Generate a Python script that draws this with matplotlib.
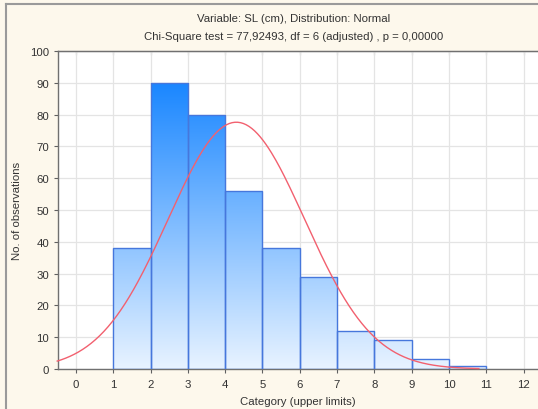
import numpy as np
import matplotlib
matplotlib.use("Agg")
import matplotlib.pyplot as plt
from matplotlib.colors import LinearSegmentedColormap

plt.rcParams['font.family'] = ['Liberation Sans', 'DejaVu Sans']

# Data
bin_upper = [2, 3, 4, 5, 6, 7, 8, 9, 10, 11]
counts = [38, 90, 80, 56, 38, 29, 12, 9, 3, 1]
fit_mean = 4.3
fit_sd = 1.83
bin_width = 1.0
x_ticks = list(range(0, 13))
y_ticks = list(range(0, 101, 10))
title_lines = ["Variable: SL (cm), Distribution: Normal",
               "Chi-Square test = 77,92493, df = 6 (adjusted) , p = 0,00000"]

fig = plt.figure(figsize=(5.38, 4.10), dpi=100)
fig.patch.set_facecolor('#fdf8ec')
W, H = 538, 410
ax = fig.add_axes([58 / W, 1 - 370 / H, 1 - 58 / W + 0.001, (370 - 52) / H])
ax.set_facecolor('white')
ax.set_xlim(-0.48, 12.4)
ax.set_ylim(0, 100)

ax.set_xticks(x_ticks)
ax.set_yticks(y_ticks)
ax.grid(True, color='#e4e4e4', lw=0.9)
ax.set_axisbelow(True)
for s in ['left', 'bottom', 'top']:
    ax.spines[s].set_color('#707070')
    ax.spines[s].set_linewidth(1.0)
ax.spines['right'].set_visible(False)
ax.tick_params(axis='both', labelsize=8.2, colors='#606060', labelcolor='#333333',
               length=3, width=0.8)
ax.tick_params(axis='x', pad=4)

sec = ax.secondary_xaxis('top')
sec.set_xticks(x_ticks)
sec.tick_params(direction='in', length=3, width=0.8, colors='#707070', labeltop=False)
sec.spines['top'].set_color('#707070')

cmap = LinearSegmentedColormap.from_list('g', ['#e8f3ff', '#1584ff'])
grad = np.linspace(0, 1, 256).reshape(-1, 1)
lefts = [u - bin_width for u in bin_upper]
bars = ax.bar(lefts, counts, width=bin_width, align='edge',
              facecolor='none', edgecolor='#4677dc', linewidth=1.0, zorder=3)
for b in bars:
    im = ax.imshow(grad, cmap=cmap, origin='lower', aspect='auto',
                   extent=[-0.48, 12.4, 0, 92], zorder=2, interpolation='bilinear')
    im.set_clip_path(b)
ax.set_xlim(-0.48, 12.4)
ax.set_ylim(0, 100)

xs = np.linspace(-0.5, 10.8, 300)
n_total = sum(counts)
ys = n_total * bin_width / (fit_sd * np.sqrt(2 * np.pi)) * np.exp(-0.5 * ((xs - fit_mean) / fit_sd) ** 2)
ax.plot(xs, ys, color='#f2606f', lw=1.0, zorder=4, clip_on=False)

ax.set_xlabel('Category (upper limits)', fontsize=8.2, color='#333333', labelpad=5)
ax.set_ylabel('No. of observations', fontsize=8.2, color='#333333', labelpad=6)

fig.text(0.545, 1 - 19 / H, title_lines[0], ha='center', va='center', fontsize=8.2, color='#333333')
fig.text(0.545, 1 - 37 / H, title_lines[1], ha='center', va='center', fontsize=8.2, color='#333333')

# outer frame lines
fig.add_artist(plt.Line2D([6 / W, 6 / W], [0, 1 - 5 / H], color='#9a9a9a', lw=1.5, transform=fig.transFigure))
fig.add_artist(plt.Line2D([6 / W, 1], [1 - 5 / H, 1 - 5 / H], color='#9a9a9a', lw=1.5, transform=fig.transFigure))

fig.savefig('out.png', dpi=100, facecolor=fig.get_facecolor())
